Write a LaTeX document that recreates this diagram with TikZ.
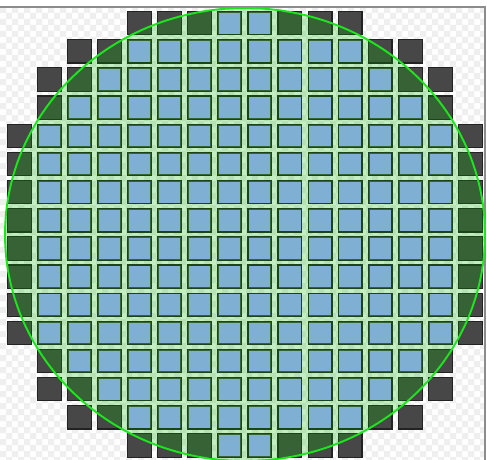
\documentclass[tikz,border=0pt]{standalone}
\definecolor{dk}{HTML}{474747}
\definecolor{dkline}{HTML}{222222}
\definecolor{bl}{HTML}{7FAFD2}
\definecolor{gr}{HTML}{00B800}
\definecolor{gline}{HTML}{1EE61E}
\definecolor{chk}{HTML}{EFEFEF}
\definecolor{frameline}{HTML}{8C8C8C}
\tikzset{
  darksq/.style={fill=dk, draw=dkline, line width=1.2pt},
  bluesq/.style={fill=bl},
  disc/.style={fill=gr, fill opacity=0.24},
  rim/.style={draw=gline, line width=1.9pt},
  frame/.style={draw=frameline, line width=1.2pt}
}
\begin{document}
\begin{tikzpicture}[x=1pt,y=-1pt]
\useasboundingbox (0,0) rectangle (487,460);
\fill[white] (0,0) rectangle (487,460);
% transparency checkerboard
\begin{scope}
\clip (0,7) rectangle (485,460);
\fill[chk] foreach \a in {0,2,...,80} { foreach \b in {0,2,...,78} {
  (6*\a,7+6*\b) rectangle ++(6,6)
  (6*\a+6,13+6*\b) rectangle ++(6,6) } };
\end{scope}
\draw[frame] (0,7) -- (485,7) -- (485,460);
% dark squares
\foreach \i/\a/\b in {0/4/11,1/2/13,2/1/14,3/1/14,4/0/15,5/0/15,6/0/15,7/0/15,
                      8/0/15,9/0/15,10/0/15,11/0/15,12/1/14,13/1/14,14/2/13,15/4/11}{
  \foreach \j in {\a,...,\b}{
    \draw[darksq] (7.3+30.08*\j,11.6+28.15*\i) rectangle ++(23.8,23.3);
  }
}
% translucent disc
\fill[disc] (245,234.5) ellipse [x radius=240pt, y radius=226.5pt];
% blue squares fully inside
\foreach \i/\a/\b in {0/7/8,1/4/11,2/3/12,3/2/13,4/1/14,5/1/14,6/1/14,7/1/14,
                      8/1/14,9/1/14,10/1/14,11/1/14,12/2/13,13/3/12,14/4/11,15/7/8}{
  \foreach \j in {\a,...,\b}{
    \fill[bluesq] (8.6+30.08*\j,12.9+28.15*\i) rectangle ++(21.2,20.7);
  }
}
\draw[rim] (245,234.5) ellipse [x radius=240pt, y radius=226.5pt];
\end{tikzpicture}
\end{document}
